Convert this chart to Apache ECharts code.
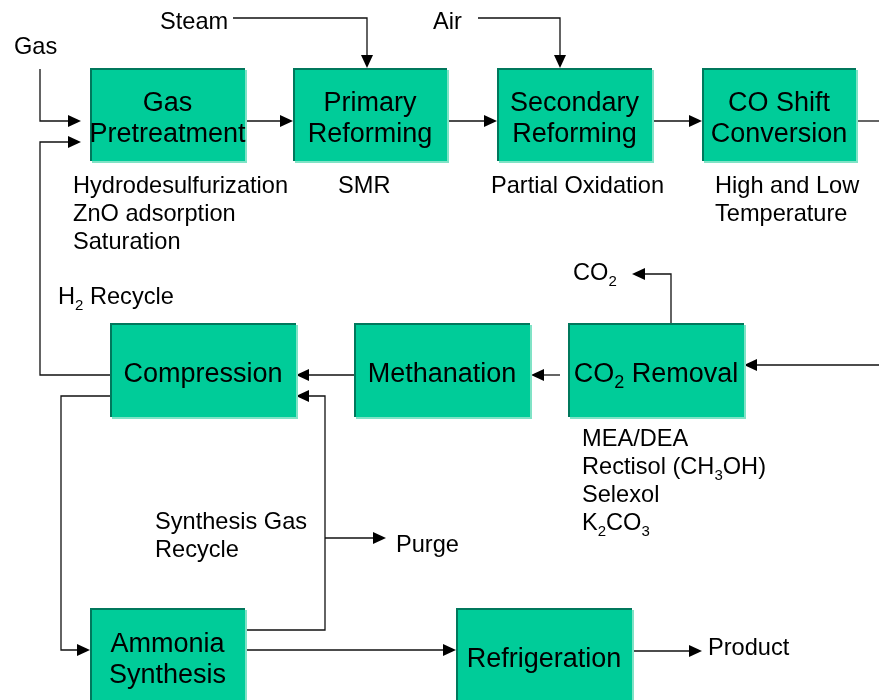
<!DOCTYPE html>
<html>
<head>
<meta charset="utf-8">
<title>Ammonia plant flow sheet</title>
<script src="https://cdn.jsdelivr.net/npm/echarts@6/dist/echarts.min.js"></script>
<style>
  html, body { margin: 0; padding: 0; background: #fff; }
  #chart { width: 879px; height: 700px; }
</style>
</head>
<body>
<div id="chart"></div>
<script>
// process units, label markup ({s|..} = subscript) and corners in sheet units
const unitNames = ['Gas\nPretreatment', 'Primary\nReforming', 'Secondary\nReforming', 'CO Shift\nConversion',
  'Compression', 'Methanation', 'CO{s|2} Removal', 'Ammonia\nSynthesis', 'Refrigeration'];
const unitLeft = [90, 293, 497, 702, 110, 354, 568, 90, 456];
const unitTop = [68, 68, 68, 68, 323, 323, 323, 608, 608];
const unitRight = [245, 447, 652, 856, 296, 530, 744, 245, 632];
const unitBottom = [161, 161, 161, 161, 417, 417, 417, 702, 702];

// streams as polylines, arrow head on the last point when streamArrow is 1
const streams = [
  [[40, 69], [40, 121], [81, 121]],                   // gas feed
  [[110, 375], [40, 375], [40, 142], [81, 142]],      // H2 recycle
  [[245, 121], [293, 121]],
  [[233, 18], [367, 18], [367, 68]],                  // steam
  [[478, 18], [560, 18], [560, 68]],                  // air
  [[447, 121], [497, 121]],
  [[652, 121], [702, 121]],
  [[856, 121], [879, 121]],
  [[879, 365], [744, 365]],
  [[671, 323], [671, 274], [632, 274]],               // CO2 vent
  [[560, 375], [531, 375]],
  [[354, 375], [296, 375]],
  [[245, 630], [325, 630], [325, 396], [296, 396]],   // synthesis gas recycle
  [[325, 538], [386, 538]],                           // purge
  [[110, 396], [61, 396], [61, 650], [90, 650]],
  [[245, 650], [456, 650]],
  [[632, 651], [702, 651]]
];
const streamArrow = [1, 1, 1, 1, 1, 1, 1, 0, 1, 1, 1, 1, 1, 1, 1, 1, 1];

// free text, top-left corner of each block
const noteText = ['Gas', 'Steam', 'Air', 'Hydrodesulfurization\nZnO adsorption\nSaturation', 'SMR',
  'Partial Oxidation', 'High and Low\nTemperature', 'H{s|2} Recycle', 'CO{s|2}',
  'MEA/DEA\nRectisol (CH{s|3}OH)\nSelexol\nK{s|2}CO{s|3}', 'Synthesis Gas\nRecycle', 'Purge', 'Product'];
const noteX = [14, 160, 433, 73, 338, 491, 715, 58, 573, 582, 155, 396, 708];
const noteY = [33, 8, 8, 172, 172, 172, 172, 283, 259, 425, 508, 531, 634];

const FONT = 'Liberation Sans, Arial, sans-serif';

const chart = echarts.init(document.getElementById('chart'));

function renderStream(params, api) {
  const pts = streams[params.dataIndex].map(p => api.coord(p));
  const children = [];
  if (streamArrow[params.dataIndex]) {
    const tip = pts[pts.length - 1];
    const prev = pts[pts.length - 2];
    const len = Math.hypot(tip[0] - prev[0], tip[1] - prev[1]);
    const dx = (tip[0] - prev[0]) / len, dy = (tip[1] - prev[1]) / len;
    const base = [tip[0] - dx * 13, tip[1] - dy * 13];
    pts[pts.length - 1] = base;
    children.push({
      type: 'polygon',
      shape: { points: [tip, [base[0] - dy * 6, base[1] + dx * 6], [base[0] + dy * 6, base[1] - dx * 6]] },
      style: { fill: '#000' }
    });
  }
  children.unshift({
    type: 'polyline',
    shape: { points: pts },
    style: { stroke: '#111', lineWidth: 1.3, fill: null }
  });
  return { type: 'group', children: children };
}

function renderUnit(params, api) {
  const i = params.dataIndex;
  const a = api.coord([unitLeft[i], unitTop[i]]);
  const b = api.coord([unitRight[i], unitBottom[i]]);
  const w = b[0] - a[0], h = b[1] - a[1];
  return {
    type: 'group',
    children: [
      { type: 'rect', shape: { x: a[0] + 2, y: a[1] + 2, width: w, height: h }, style: { fill: '#80e3c6' } },
      { type: 'rect', shape: { x: a[0], y: a[1], width: w, height: h }, style: { fill: '#00cc99' } },
      {
        type: 'polyline',
        shape: { points: [[a[0] + 1, b[1]], [a[0] + 1, a[1] + 1], [b[0], a[1] + 1]] },
        style: { stroke: '#00785c', lineWidth: 2, fill: null }
      },
      {
        type: 'text',
        style: {
          text: unitNames[i],
          x: (a[0] + b[0]) / 2,
          y: (a[1] + b[1]) / 2 + 5,
          align: 'center',
          verticalAlign: 'middle',
          fontSize: 27,
          fontFamily: FONT,
          lineHeight: 31,
          fill: '#000',
          rich: { s: { fontSize: 18, fontFamily: FONT, padding: [16, 0, 0, 0] } }
        }
      }
    ]
  };
}

function renderNote(params, api) {
  const i = params.dataIndex;
  const p = api.coord([noteX[i], noteY[i]]);
  return {
    type: 'text',
    style: {
      text: noteText[i],
      x: p[0],
      y: p[1],
      align: 'left',
      verticalAlign: 'top',
      fontSize: 23.6,
      fontFamily: FONT,
      lineHeight: 28,
      fill: '#000',
      rich: { s: { fontSize: 15, fontFamily: FONT, padding: [18, 0, 0, 0] } }
    }
  };
}

chart.setOption({
  animation: false,
  grid: { left: 0, right: 0, top: 0, bottom: 0 },
  xAxis: { type: 'value', min: 0, max: 879, show: false },
  yAxis: { type: 'value', min: 0, max: 700, inverse: true, show: false },
  series: [
    {
      type: 'custom',
      clip: false,
      renderItem: renderStream,
      data: streams.map(s => s[0])
    },
    {
      type: 'custom',
      clip: false,
      renderItem: renderUnit,
      data: unitLeft.map((x, i) => [x, unitTop[i]])
    },
    {
      type: 'custom',
      clip: false,
      renderItem: renderNote,
      data: noteX.map((x, i) => [x, noteY[i]])
    }
  ]
});
</script>
</body>
</html>
